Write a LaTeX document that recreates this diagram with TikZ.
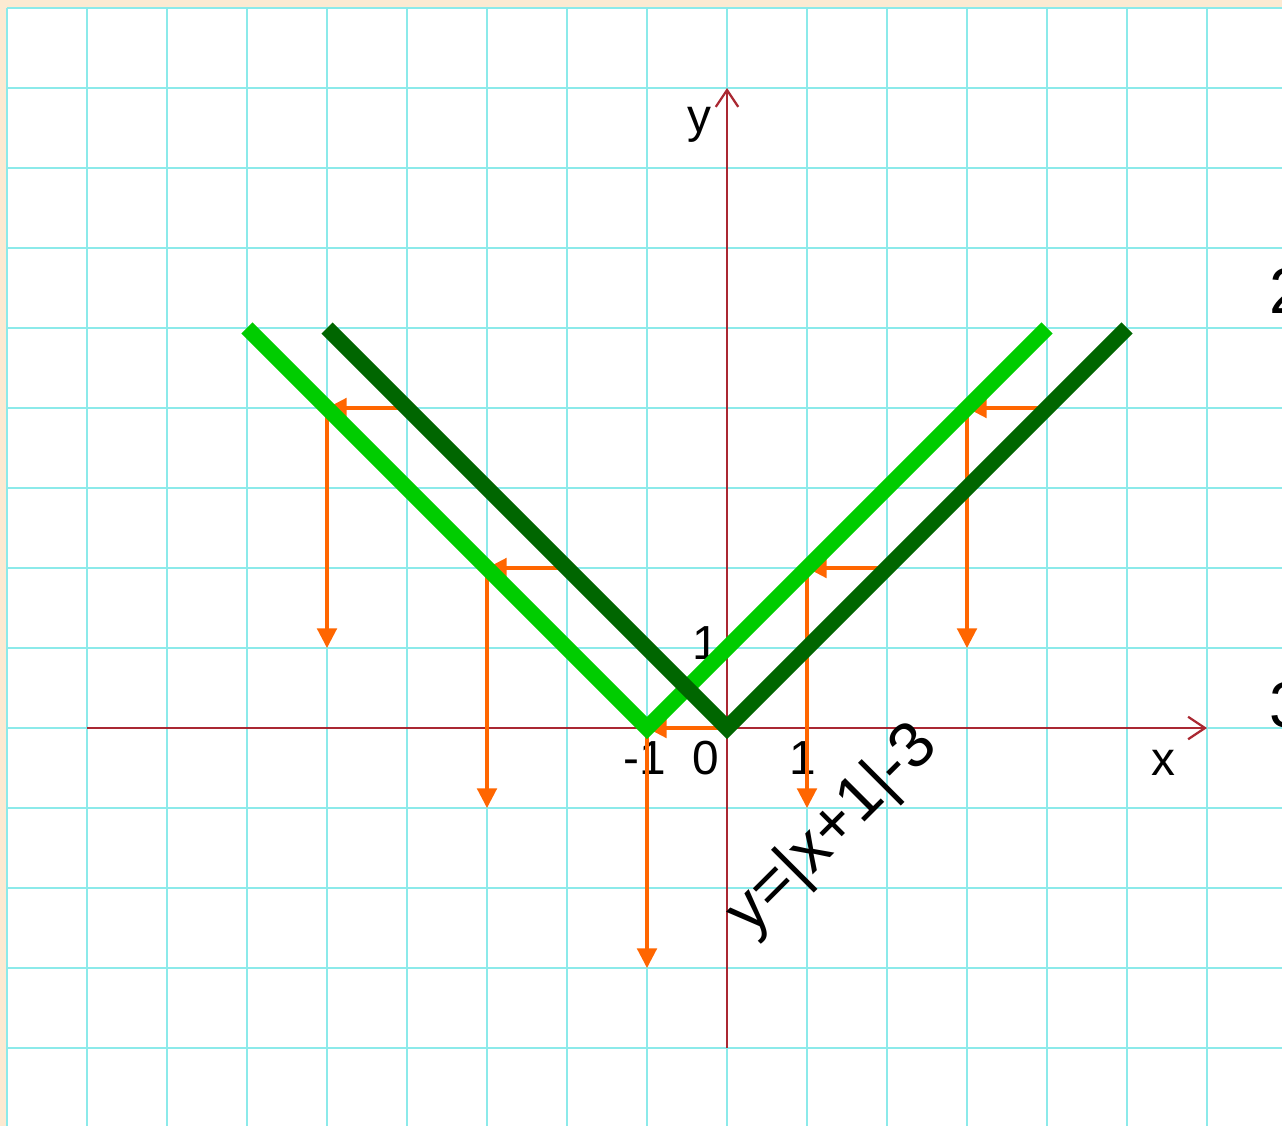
\documentclass[tikz,border=0pt]{standalone}
\usepackage{fontspec}
\setmainfont{Liberation Sans}
\usepackage{xcolor}
\usepackage{tikz}
\usetikzlibrary{arrows.meta}

\definecolor{paper}{RGB}{252,234,210}
\definecolor{gridcyan}{RGB}{140,234,234}
\definecolor{axisred}{RGB}{170,40,50}
\definecolor{lightgreen}{RGB}{0,204,0}
\definecolor{darkgreen}{RGB}{0,102,0}
\definecolor{shiftorange}{RGB}{255,102,0}

\begin{document}
\begin{tikzpicture}[
  axis/.style={axisred, line width=0.8pt, -{Straight Barb[length=6pt,width=8pt]}},
  vgraph/.style={line width=5.6pt, miter limit=10},
  shiftarrow/.style={shiftorange, line width=1.1pt, -{Triangle[length=7pt,width=7pt]}},
  lbl/.style={font=\fontsize{17}{20}\selectfont, inner sep=0pt},
  biglbl/.style={font=\fontsize{23}{26}\selectfont, inner sep=0pt, anchor=west}
]
\useasboundingbox (-9.0875,-4.975) rectangle (6.9375,9.1);

% Paper and grid
\fill[paper] (-9.0875,-4.975) rectangle (6.9375,9.1);
\fill[white] (-9,-4.975) rectangle (6.9375,9);
\draw[gridcyan, line width=1pt] (-9,-4.975) grid (6.9375,9);

% Axes
\draw[axis] (-8,0) -- (6,0);
\draw[axis] (0,-4) -- (0,8);

% Labels
\node[lbl] (ylabel) at (-0.34,7.54) {y};
\node[lbl] (xlabel) at (5.45,-0.43) {x};
\node[lbl] (zero) at (-0.27,-0.38) {0};
\node[lbl] (minusone) at (-1.03,-0.38) {-1};
\node[lbl] (xone) at (0.95,-0.38) {1};
\node[lbl] (yone) at (-0.26,1.06) {1};
\node[lbl, font=\fontsize{23}{26}\selectfont, rotate=45] (formula) at (1.33,-1.28) {y=|x+1|-3};
\node[biglbl] (two) at (6.775,5.46) {2};
\node[biglbl] (three) at (6.775,0.28) {3};

% Shift left by 1, then down by 3
\draw[shiftarrow] (-4,4) -- (-5,4);
\draw[shiftarrow] (-5,4) -- (-5,1);
\draw[shiftarrow] (-2,2) -- (-3,2);
\draw[shiftarrow] (-3,2) -- (-3,-1);
\draw[shiftarrow] (0,0) -- (-1,0);
\draw[shiftarrow] (-1,0) -- (-1,-3);
\draw[shiftarrow] (2,2) -- (1,2);
\draw[shiftarrow] (1,2) -- (1,-1);
\draw[shiftarrow] (4,4) -- (3,4);
\draw[shiftarrow] (3,4) -- (3,1);

% Graphs
\draw[vgraph, lightgreen] (-6,5) -- (-1,0) -- (4,5);
\draw[vgraph, darkgreen] (-5,5) -- (0,0) -- (5,5);

\end{tikzpicture}
\end{document}
